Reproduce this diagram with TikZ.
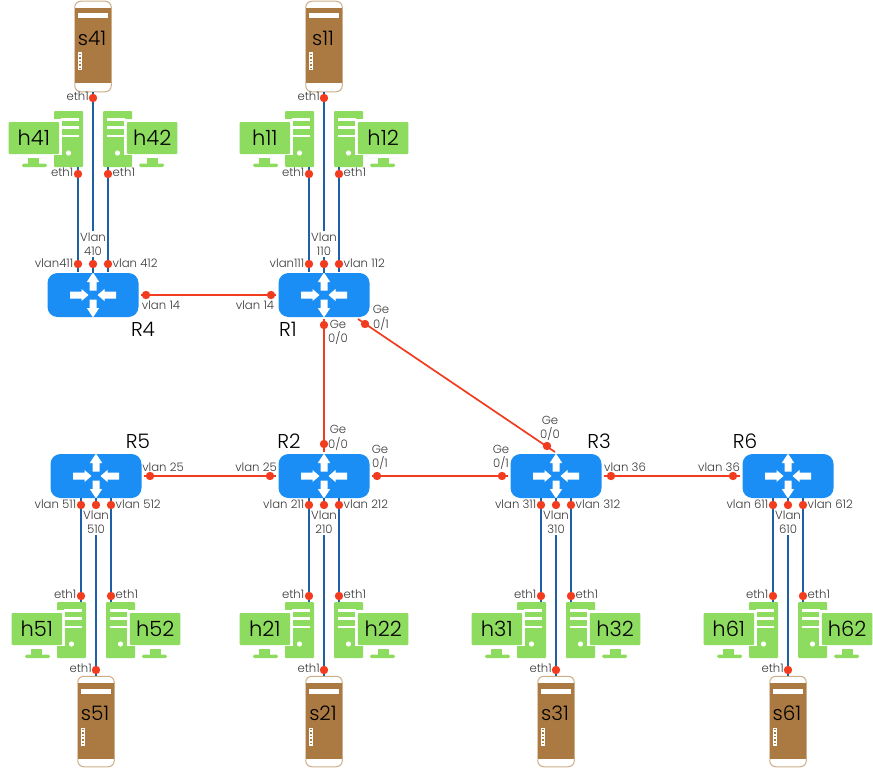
\documentclass[tikz,border=0pt]{standalone}
\usepackage{fontspec}
\setmainfont{Poppins}[UprightFont=* Light]
\definecolor{routerblue}{HTML}{1A8EF5}
\definecolor{pcgreen}{HTML}{8EDC5F}
\definecolor{srvbrown}{HTML}{AB7A42}
\definecolor{srvedge}{HTML}{CDB08A}
\definecolor{lanblue}{HTML}{1F5FA5}
\definecolor{wanred}{HTML}{F23C1F}
\definecolor{inktext}{HTML}{3A3A3A}
\tikzset{
  routerbox/.style={fill=routerblue,rounded corners=10pt,minimum width=91pt,minimum height=44pt,inner sep=0pt},
  routername/.style={font=\fontsize{20}{22}\selectfont,text=black,inner sep=0pt},
  monitorbox/.style={fill=pcgreen,rounded corners=1pt,minimum width=50.5pt,minimum height=32pt,inner sep=0pt,text=black,font=\fontsize{21}{23}\selectfont},
  serverbox/.style={draw=srvedge,line width=1pt,fill=white,rounded corners=6pt,minimum width=36.5pt,minimum height=90.5pt,inner sep=0pt},
  servername/.style={font=\fontsize{20}{22}\selectfont,text=black,inner sep=0pt},
  portdot/.style={circle,fill=wanred,minimum size=8.4pt,inner sep=0pt},
  tag/.style={font=\fontsize{11.7}{14.5}\selectfont,text=inktext,inner sep=0pt,align=center},
  vlantag/.style={tag,fill=white,inner xsep=1pt,inner ysep=1pt},
  lanlink/.style={draw=lanblue,line width=1.8pt},
  wanlink/.style={draw=wanred,line width=1.7pt},
}
% One desktop: tower at the origin side, monitor towards the outside (dir = 1 or -1)
\newcommand{\desktop}[4]{%
  \begin{scope}[shift={(#2,#3)},xscale=#4]
    \fill[pcgreen,rounded corners=1pt] (0,0) rectangle (29,56);
    \fill[white] (-2,8) rectangle (8,44);
    \foreach \sloty in {8.5,16.5,25}
      \fill[white] (7,\sloty-1.2) rectangle (25,\sloty+1.2);
    \fill[white] (14.5,42) circle (2.6);
    \fill[pcgreen] (-26,47) rectangle (-15,53);
    \fill[pcgreen,rounded corners=1.5pt] (-32,52.5) rectangle (-7,56);
    \node[monitorbox] (#1) at (-20.2,27) {\raisebox{-3pt}{#1}};
  \end{scope}}
% One server tower with its slot, its front panel and its name
\newcommand{\tower}[3]{%
  \node[serverbox] (#1) at (#2,#3) {};
  \fill[srvbrown] (#2-18,#3-38.5) rectangle (#2+18,#3+37);
  \fill[white] (#2-15,#3-33) rectangle (#2+15,#3-28);
  \fill[white] (#2-15,#3+6) rectangle (#2-11.5,#3+24);
  \foreach \doty in {8,11.5,15,18.5,22}
    \fill[srvbrown] (#2-14,#3+\doty-.6) rectangle (#2-12.5,#3+\doty+.6);
  \node[servername] at (#2-1,#3-8.5) {#1};}
% Server and two hosts above a router
\newcommand{\topsite}[3]{%
  \desktop{h#31}{#2-39}{111}{1}
  \desktop{h#32}{#2+39}{111}{-1}
  \tower{s#31}{#2}{46.5}
  \coordinate (h#31port) at (#2-15,167);
  \coordinate (h#32port) at (#2+15,167);
  \coordinate (#1left) at (#2-15,272);
  \coordinate (#1right) at (#2+15,272);
  \draw[lanlink] (h#31port) -- (#1left);
  \draw[lanlink] (h#32port) -- (#1right);
  \draw[lanlink] (s#31.south) -- (#1.north);
  \node[portdot] (d#31) at (#2-15,174) {};
  \node[portdot] (d#32) at (#2+15,174) {};
  \node[portdot] (d#30) at (#2,98) {};
  \node[portdot] (p#31) at (#2-15,264) {};
  \node[portdot] (p#32) at (#2+15,264) {};
  \node[portdot] (p#30) at (#2,264) {};
  \node[tag,anchor=mid east] at (#2-19.5,174) {eth1};
  \node[tag,anchor=mid west] at (#2+19.5,174) {eth1};
  \node[tag,anchor=mid east] at (#2-4,98) {eth1};
  \node[tag,anchor=mid east] at (#2-19.5,264.5) {vlan#311};
  \node[tag,anchor=mid west] at (#2+19.5,264.5) {vlan #312};
  \node[vlantag] at (#2,244) {Vlan\\#310};}
% Two hosts and a server below a router
\newcommand{\botsite}[3]{%
  \desktop{h#31}{#2-39}{602}{1}
  \desktop{h#32}{#2+39}{602}{-1}
  \tower{s#31}{#2}{721.5}
  \coordinate (h#31port) at (#2-15,602);
  \coordinate (h#32port) at (#2+15,602);
  \coordinate (#1left) at (#2-15,498);
  \coordinate (#1right) at (#2+15,498);
  \draw[lanlink] (#1left) -- (h#31port);
  \draw[lanlink] (#1right) -- (h#32port);
  \draw[lanlink] (#1.south) -- (s#31.north);
  \node[portdot] (d#31) at (#2-15,596) {};
  \node[portdot] (d#32) at (#2+15,596) {};
  \node[portdot] (d#30) at (#2,670) {};
  \node[portdot] (p#31) at (#2-15,505) {};
  \node[portdot] (p#32) at (#2+15,505) {};
  \node[portdot] (p#30) at (#2,505) {};
  \node[tag,anchor=mid east] at (#2-19.5,596) {eth1};
  \node[tag,anchor=mid west] at (#2+19.5,596) {eth1};
  \node[tag,anchor=mid east] at (#2-4,670) {eth1};
  \node[tag,anchor=mid east] at (#2-19.5,506) {vlan #311};
  \node[tag,anchor=mid west] at (#2+19.5,506) {vlan #312};
  \node[vlantag] at (#2,522) {Vlan\\#310};}
% Router body with its four white arrows
\newcommand{\router}[3]{%
  \node[routerbox] (#1) at (#2,#3) {};
  \begin{scope}[shift={(#2,#3)}]
    \foreach \ang in {0,180}
      \fill[white,rotate=\ang] (-3.5,-4.5) -- (-3.5,-13) -- (-6.2,-13) -- (0,-22.5) -- (6.2,-13) -- (3.5,-13) -- (3.5,-4.5) -- cycle;
    \foreach \ang in {0,180}
      \fill[white,rotate=\ang] (-23,-3.5) -- (-11.5,-3.5) -- (-11.5,-6) -- (-4.5,0) -- (-11.5,6) -- (-11.5,3.5) -- (-23,3.5) -- cycle;
  \end{scope}}
\begin{document}
\begin{tikzpicture}[x=1pt,y=-1pt]
  \useasboundingbox[fill=white] (0,0) rectangle (873,768);

  \router{R4}{93}{295}
  \router{R1}{324}{295}
  \router{R5}{96}{476}
  \router{R2}{324}{476}
  \router{R3}{556}{476}
  \router{R6}{788}{476}

  \node[routername] (nR4) at (143,329) {R4};
  \node[routername] (nR1) at (288,329) {R1};
  \node[routername] (nR5) at (138,441) {R5};
  \node[routername] (nR2) at (289,441) {R2};
  \node[routername] (nR3) at (599,441) {R3};
  \node[routername] (nR6) at (745,441) {R6};

  \topsite{R4}{93}{4}
  \topsite{R1}{324}{1}
  \botsite{R5}{96}{5}
  \botsite{R2}{324}{2}
  \botsite{R3}{556}{3}
  \botsite{R6}{788}{6}

  % Links between routers
  \coordinate (r13a) at (358,319);
  \coordinate (r13b) at (555,452);
  \draw[wanlink,shorten <=2pt,shorten >=2pt] (R4.east) -- (R1.west);
  \draw[wanlink,shorten <=2pt,shorten >=2pt] (R1.south) -- (R2.north);
  \draw[wanlink] (r13a) -- (r13b);
  \draw[wanlink,shorten <=2pt,shorten >=2pt] (R5.east) -- (R2.west);
  \draw[wanlink,shorten <=2pt,shorten >=2pt] (R2.east) -- (R3.west);
  \draw[wanlink,shorten <=2pt,shorten >=2pt] (R3.east) -- (R6.west);

  \foreach \dotname/\dotx/\doty in {a/146/295,b/271/295,c/324/325,d/324/444,e/365/324,f/547/446,g/150/476,h/270/476,i/377/476,j/502/476,k/611/476,l/733/476}
    \node[portdot] (wan\dotname) at (\dotx,\doty) {};

  \node[tag] at (161,305) {vlan 14};
  \node[tag] at (255,305) {vlan 14};
  \node[tag] at (338,332.5) {Ge\\0/0};
  \node[tag] at (381,318) {Ge\\0/1};
  \node[tag] at (338,438) {Ge\\0/0};
  \node[tag] at (380,457.5) {Ge\\0/1};
  \node[tag] at (550,428.5) {Ge\\0/0};
  \node[tag] at (501,457.5) {Ge\\0/1};
  \node[tag] at (163,467) {vlan 25};
  \node[tag] at (256,467) {vlan 25};
  \node[tag] at (625,467) {vlan 36};
  \node[tag] at (719,467) {vlan 36};
\end{tikzpicture}
\end{document}
